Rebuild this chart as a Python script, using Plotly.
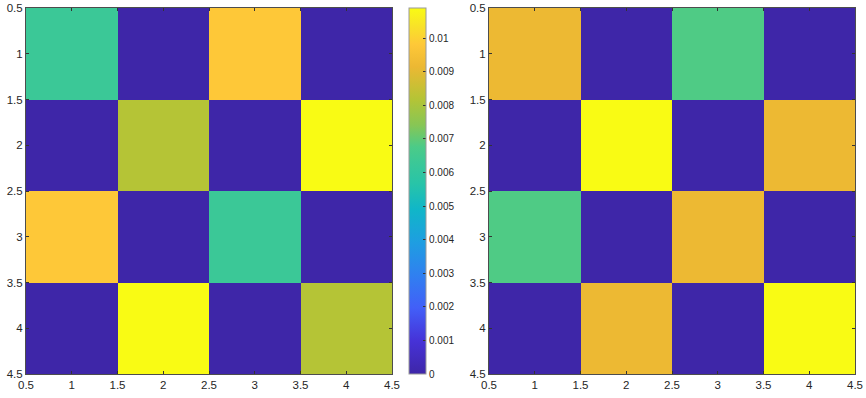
import plotly.graph_objects as go

# ---- data ----
cols = [1, 2, 3, 4]
rows = [1, 2, 3, 4]
left_z = [
    [0.0063, 0.0, 0.0098, 0.0],
    [0.0, 0.0082, 0.0, 0.0109],
    [0.0098, 0.0, 0.0063, 0.0],
    [0.0, 0.0109, 0.0, 0.0082],
]
right_z = [
    [0.0092, 0.0, 0.0068, 0.0],
    [0.0, 0.0109, 0.0, 0.0092],
    [0.0068, 0.0, 0.0092, 0.0],
    [0.0, 0.0092, 0.0, 0.0109],
]
zmin, zmax = 0.0, 0.0109
axis_ticks = [0.5, 1, 1.5, 2, 2.5, 3, 3.5, 4, 4.5]
axis_ticktext = ["0.5", "1", "1.5", "2", "2.5", "3", "3.5", "4", "4.5"]
cbar_ticks = [0, 0.001, 0.002, 0.003, 0.004, 0.005, 0.006, 0.007, 0.008, 0.009, 0.01]
cbar_ticktext = ["0", "0.001", "0.002", "0.003", "0.004", "0.005", "0.006",
                 "0.007", "0.008", "0.009", "0.01"]

# parula-like colorscale
parula = [
    [0.00, "rgb(62,38,168)"],
    [0.09, "rgb(70,50,215)"],
    [0.18, "rgb(66,95,248)"],
    [0.27, "rgb(48,128,240)"],
    [0.36, "rgb(30,158,225)"],
    [0.45, "rgb(16,182,200)"],
    [0.52, "rgb(40,196,168)"],
    [0.58, "rgb(60,200,150)"],
    [0.62, "rgb(75,203,136)"],
    [0.68, "rgb(135,198,85)"],
    [0.75, "rgb(180,196,54)"],
    [0.84, "rgb(236,184,51)"],
    [0.90, "rgb(254,200,56)"],
    [0.95, "rgb(248,226,40)"],
    [1.00, "rgb(249,251,20)"],
]

W, H = 866, 398
ML, MR, MT, MB = 26, 11, 8, 24
PW = W - ML - MR
FONT = "Liberation Sans, Arial, Helvetica, sans-serif"
TXT = "#262626"

fig = go.Figure()
fig.add_trace(go.Heatmap(
    x=cols, y=rows, z=left_z, zmin=zmin, zmax=zmax, colorscale=parula,
    xaxis="x", yaxis="y", hoverinfo="skip",
    colorbar=dict(
        x=(409 - ML) / PW, xanchor="left", xpad=0,
        y=0, yanchor="bottom", ypad=0,
        lenmode="fraction", len=1, thickness=17, thicknessmode="pixels",
        tickmode="array", tickvals=cbar_ticks, ticktext=cbar_ticktext,
        ticks="inside", ticklen=3, tickcolor="#333333",
        tickfont=dict(family=FONT, size=10, color=TXT),
        outlinecolor="#9a9a9a", outlinewidth=1,
    ),
))
fig.add_trace(go.Heatmap(
    x=cols, y=rows, z=right_z, zmin=zmin, zmax=zmax, colorscale=parula,
    xaxis="x2", yaxis="y2", showscale=False, hoverinfo="skip",
))

common = dict(
    tickmode="array", tickvals=axis_ticks, ticktext=axis_ticktext,
    ticks="inside", ticklen=3, tickcolor="#333333",
    showline=True, linecolor="#4d4d4d", linewidth=1, mirror="ticks",
    showgrid=False, zeroline=False, automargin=False,
    tickfont=dict(family=FONT, size=11.5, color=TXT),
)
fig.update_layout(
    width=W, height=H,
    margin=dict(l=ML, r=MR, t=MT, b=MB, autoexpand=False),
    paper_bgcolor="white", plot_bgcolor="white",
    xaxis=dict(domain=[0, (392 - ML) / PW], range=[0.5, 4.5], anchor="y", **common),
    yaxis=dict(domain=[0, 1], range=[4.5, 0.5], anchor="x", **common),
    xaxis2=dict(domain=[(489 - ML) / PW, 1], range=[0.5, 4.5], anchor="y2", **common),
    yaxis2=dict(domain=[0, 1], range=[4.5, 0.5], anchor="x2", **common),
)

fig.write_html("out.html",
               config={"displayModeBar": False},
               post_script="document.body.style.margin='0px';document.body.style.overflow='hidden';")
